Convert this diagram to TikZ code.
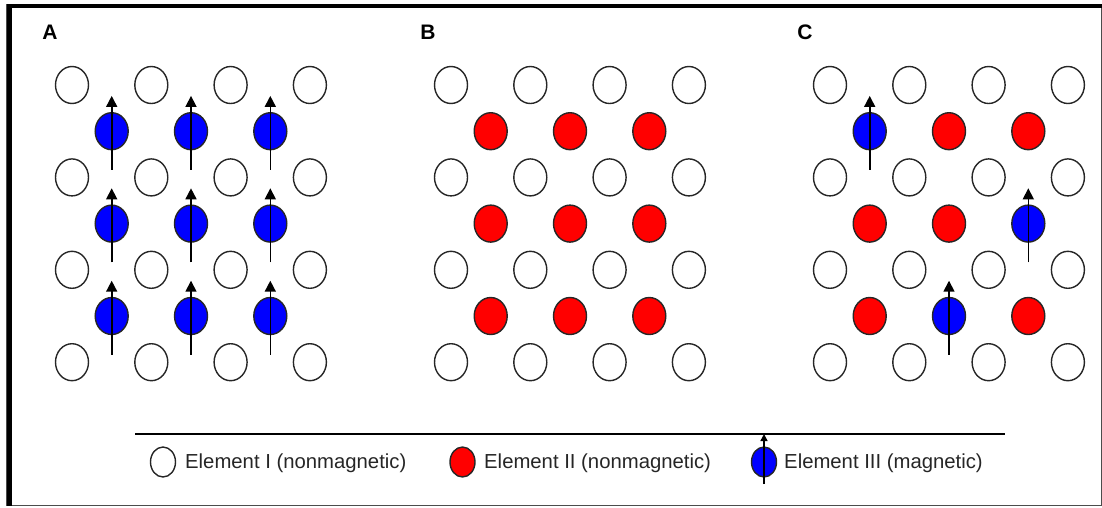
\documentclass[tikz,border=0pt]{standalone}
\usepackage{fontspec}
\setmainfont{Liberation Sans}
\usetikzlibrary{shapes.geometric,arrows.meta}
\tikzset{
  atom/.style={ellipse, draw=black!85, line width=1.4pt, minimum width=33pt, minimum height=37pt, inner sep=0pt},
  plain atom/.style={atom, fill=white},
  red atom/.style={atom, fill=red},
  blue atom/.style={atom, fill=blue},
  key atom/.style={atom, minimum width=25pt, minimum height=30pt},
  spin/.style={line width=1.6pt, -{Triangle[length=11pt,width=11pt]}},
  key spin/.style={line width=1.4pt, -{Triangle[length=7pt,width=7pt]}},
  panel label/.style={font=\fontsize{21}{21}\selectfont\bfseries, inner sep=0pt},
  key text/.style={font=\fontsize{20.3}{22}\selectfont, text=black!85, anchor=west, inner sep=0pt},
}
\begin{document}
\begin{tikzpicture}[x=1pt,y=-1pt]
\useasboundingbox (0,0) rectangle (1102,507);

% frame: thin grey box with a heavy top and left edge
\draw[gray!60!black, line width=1pt] (6.5,4.5) rectangle (1101.3,505.5);
\fill[black] (6.5,4) rectangle (1101.5,7.5);
\fill[black] (6.5,4) rectangle (12,505.5);

% panel letters
\node[panel label] (labA) at (50,32) {A};
\node[panel label] (labB) at (428,32) {B};
\node[panel label] (labC) at (805,32) {C};

% nonmagnetic host rows of every panel
\foreach \p/\px in {A/72, B/451, C/830} {
  \foreach \k in {0,2,4,6} {
    \foreach \i in {0,...,3} {
      \node[plain atom] (\p-\k-\i) at ({\px+79.3*\i},{85+46.2*\k}) {};
    }
  }
}

% panel A: magnetic atoms with aligned spins
\foreach \k in {1,3,5} {
  \foreach \j in {0,1,2} {
    \node[blue atom] (A-\k-\j) at ({72+39.7+79.3*\j},{85+46.2*\k}) {};
    \coordinate (A-\k-\j-tail) at ([yshift=-38.7pt]A-\k-\j.center);
    \coordinate (A-\k-\j-head) at ([yshift=35.3pt]A-\k-\j.center);
    \draw[spin] (A-\k-\j-tail) -- (A-\k-\j-head);
  }
}

% panel B: nonmagnetic substituents
\foreach \k in {1,3,5} {
  \foreach \j in {0,1,2} {
    \node[red atom] (B-\k-\j) at ({451+39.7+79.3*\j},{85+46.2*\k}) {};
  }
}

% panel C: mixed occupation
\foreach \k/\j/\t in {1/0/blue,1/1/red,1/2/red,3/0/red,3/1/red,3/2/blue,5/0/red,5/1/blue,5/2/red} {
  \node[\t\space atom] (C-\k-\j) at ({830+39.7+79.3*\j},{85+46.2*\k}) {};
}
\foreach \k/\j in {1/0,3/2,5/1} {
  \coordinate (C-\k-\j-tail) at ([yshift=-38.7pt]C-\k-\j.center);
  \coordinate (C-\k-\j-head) at ([yshift=35.3pt]C-\k-\j.center);
  \draw[spin] (C-\k-\j-tail) -- (C-\k-\j-head);
}

% legend
\coordinate (key-left) at (135,434);
\coordinate (key-right) at (1005,434);
\draw[line width=1.6pt] (key-left) -- (key-right);

\node[key atom, fill=white] (key1) at (163,462) {};
\node[key text] (key1-text) at (185,463) {Element I (nonmagnetic)};

\node[key atom, fill=red] (key2) at (462.5,462) {};
\node[key text] (key2-text) at (484,463) {Element II (nonmagnetic)};

\node[key atom, fill=blue] (key3) at (764,462) {};
\coordinate (key3-tail) at (764,484);
\coordinate (key3-head) at (764,434);
\draw[key spin] (key3-tail) -- (key3-head);
\node[key text] (key3-text) at (784,463) {Element III (magnetic)};
\end{tikzpicture}
\end{document}
